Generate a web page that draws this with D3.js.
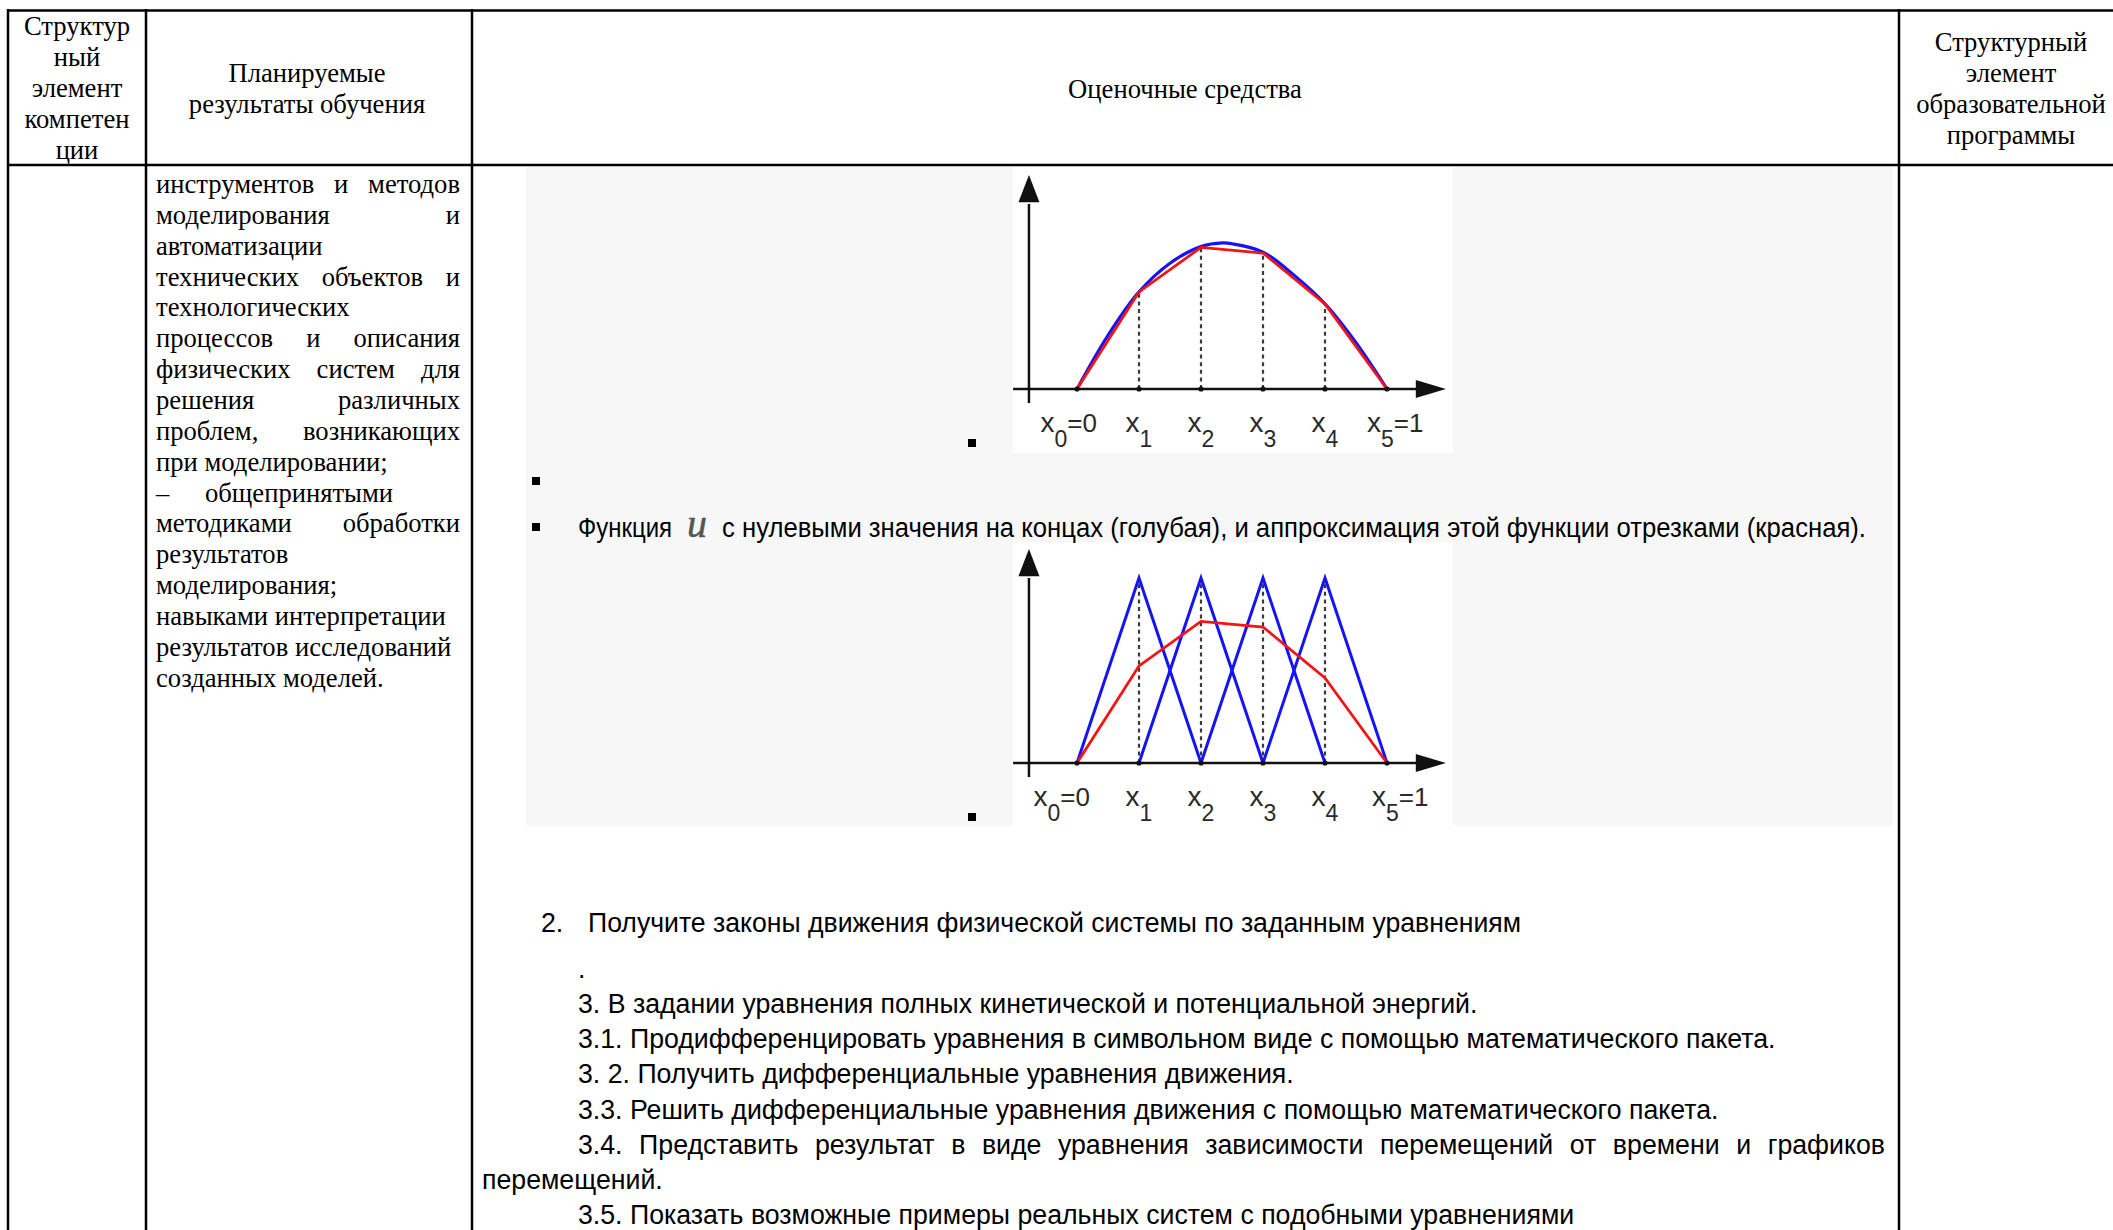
<!DOCTYPE html>
<html><head><meta charset="utf-8">
<script src="https://cdn.jsdelivr.net/npm/d3@7"></script>
<style>html,body{margin:0;padding:0;background:#fff;} svg{display:block;}</style>
</head><body>
<svg id="c" width="2113" height="1230"></svg>
<script>
// ---------- DATA ----------
const nodeX = [0, 0.2, 0.4, 0.6, 0.8, 1.0];
const nodeSub = ["0", "1", "2", "3", "4", "5"];
const nodeSuffix = ["=0", "", "", "", "", "=1"];
const redApprox = [0, 0.525, 0.765, 0.735, 0.46, 0];
const blueCurveX = [0, 0.1, 0.2, 0.3, 0.4, 0.47, 0.5, 0.6, 0.7, 0.8, 0.9, 1.0];
const blueCurveY = [0, 0.29, 0.525, 0.68, 0.77, 0.79, 0.785, 0.74, 0.615, 0.46, 0.25, 0];
const hatCenters = [0.2, 0.4, 0.6, 0.8];
const hatPeak = [1, 1, 1, 1];

const headerCol1 = ["Структур", "ный", "элемент", "компетен", "ции"];
const headerCol2 = ["Планируемые", "результаты обучения"];
const headerCol3 = ["Оценочные средства"];
const headerCol4 = ["Структурный", "элемент", "образовательной", "программы"];

const outcomeLines = [
  ["инструментов и методов", "j"],
  ["моделирования и", "j"],
  ["автоматизации", "l"],
  ["технических объектов и", "j"],
  ["технологических", "l"],
  ["процессов и описания", "j"],
  ["физических систем для", "j"],
  ["решения различных", "j"],
  ["проблем, возникающих", "j"],
  ["при моделировании;", "l"],
  ["– общепринятыми", "d"],
  ["методиками обработки", "j"],
  ["результатов", "l"],
  ["моделирования;", "l"],
  ["навыками интерпретации", "l"],
  ["результатов исследований", "l"],
  ["созданных моделей.", "l"]
];

const captionPre = "Функция";
const captionVar = "u";
const captionPost = "с нулевыми значения на концах (голубая), и аппроксимация этой функции отрезками (красная).";
const task2Num = "2.";
const task2Text = "Получите законы движения физической системы по заданным уравнениям";
const taskLines = [
  [".", "l", 0],
  ["3. В задании уравнения полных кинетической и потенциальной энергий.", "l", 0],
  ["3.1. Продифференцировать уравнения в символьном виде с помощью математического пакета.", "l", 0],
  ["3. 2. Получить дифференциальные уравнения движения.", "l", 0],
  ["3.3. Решить дифференциальные уравнения движения с помощью математического пакета.", "l", 0],
  ["3.4. Представить результат в виде уравнения зависимости перемещений от времени и графиков", "j", 0],
  ["перемещений.", "l", 1],
  ["3.5. Показать возможные примеры реальных систем с подобными уравнениями", "l", 0]
];

// ---------- SETUP ----------
const SERIF = "'Liberation Serif','Times New Roman',serif";
const SANS = "'Liberation Sans',Arial,sans-serif";
const svg = d3.select("#c");

function measure(text, family, size) {
  const t = svg.append("text").attr("font-family", family).attr("font-size", size).text(text);
  const w = t.node().getComputedTextLength();
  t.remove();
  return w;
}
const serifSize = 25 * 290 / measure("навыками интерпретации", SERIF, 25);
const sansSize = 24 * 1198 / measure(taskLines[2][0], SANS, 24);

function textLine(g, str, x0, y, family, size, opts = {}) {
  const t = g.append("text").attr("y", y).attr("font-family", family)
    .attr("font-size", size).attr("fill", "#000");
  if (opts.justifyTo) {
    const words = str.split(" ");
    const widths = words.map(w => measure(w, family, size));
    const gap = (opts.justifyTo - x0 - d3.sum(widths)) / (words.length - 1);
    let x = x0;
    words.forEach((w, i) => { t.append("tspan").attr("x", x).text(w); x += widths[i] + gap; });
  } else {
    t.attr("x", x0).text(str);
    if (opts.anchor) t.attr("text-anchor", opts.anchor);
    if (opts.fitTo) t.attr("textLength", opts.fitTo - x0).attr("lengthAdjust", "spacingAndGlyphs");
  }
  return t;
}

// ---------- BACKGROUNDS ----------
svg.append("rect").attr("x", 526).attr("y", 167).attr("width", 1367).attr("height", 659).attr("fill", "#f7f7f7");
svg.append("rect").attr("x", 1013).attr("y", 167).attr("width", 440).attr("height", 286).attr("fill", "#fff");
svg.append("rect").attr("x", 1013).attr("y", 542).attr("width", 440).attr("height", 284).attr("fill", "#fff");

// ---------- TABLE GRID ----------
const grid = svg.append("g").attr("stroke", "#000").attr("stroke-width", 2.5);
[10.5, 165].forEach(y => grid.append("line").attr("x1", 7).attr("x2", 2113).attr("y1", y).attr("y2", y));
[8, 146, 472, 1899].forEach(x => grid.append("line").attr("x1", x).attr("x2", x).attr("y1", 9).attr("y2", 1230));

// ---------- HEADER ----------
const hdr = svg.append("g");
headerCol1.forEach((s, i) => textLine(hdr, s, 77, 35 + i * 31, SERIF, serifSize, { anchor: "middle" }));
headerCol2.forEach((s, i) => textLine(hdr, s, 307, 82 + i * 31, SERIF, serifSize, { anchor: "middle" }));
headerCol3.forEach((s, i) => textLine(hdr, s, 1185, 98 + i * 31, SERIF, serifSize, { anchor: "middle" }));
headerCol4.forEach((s, i) => textLine(hdr, s, 2011, 51 + i * 31, SERIF, serifSize, { anchor: "middle" }));

// ---------- OUTCOMES COLUMN ----------
const oc = svg.append("g");
outcomeLines.forEach(([s, mode], i) => {
  const y = 193 + i * 30.85;
  if (mode === "j") textLine(oc, s, 156, y, SERIF, serifSize, { justifyTo: 460 });
  else if (mode === "d") {
    const parts = s.split(" ");
    textLine(oc, parts[0], 156, y, SERIF, serifSize);
    textLine(oc, parts.slice(1).join(" "), 205, y, SERIF, serifSize);
  } else textLine(oc, s, 156, y, SERIF, serifSize);
});

// ---------- CHARTS ----------
function drawChart(axisY, mode, lab) {
  const g = svg.append("g");
  const x = d3.scaleLinear().domain([0, 1]).range([1077, 1387]);
  const y = d3.scaleLinear().domain([0, 1]).range([axisY, axisY - 185]);
  const ink = "#111";
  g.append("line").attr("x1", x(-0.206)).attr("x2", x(1.11)).attr("y1", y(0)).attr("y2", y(0))
    .attr("stroke", ink).attr("stroke-width", 2.5);
  g.append("line").attr("x1", x(-0.155)).attr("x2", x(-0.155)).attr("y1", y(-0.076)).attr("y2", y(1.0))
    .attr("stroke", ink).attr("stroke-width", 2.5);
  g.append("path").attr("d", d3.line()([[x(1.093), y(0) - 9], [x(1.19), y(0)], [x(1.093), y(0) + 9]]))
    .attr("fill", ink);
  g.append("path").attr("d", d3.line()([[x(-0.155) - 10.5, y(1.01)], [x(-0.155), y(1.157)], [x(-0.155) + 10.5, y(1.01)]]))
    .attr("fill", ink);
  nodeX.slice(1, 5).forEach((v, i) => {
    const top = mode === "hat" ? hatPeak[i] : redApprox[i + 1];
    g.append("line").attr("x1", x(v)).attr("x2", x(v)).attr("y1", y(0)).attr("y2", y(top))
      .attr("stroke", "#3a3a3a").attr("stroke-width", 2.2).attr("stroke-dasharray", "4,3.6");
  });
  if (mode === "curve") {
    g.append("path").datum(blueCurveX.map((v, i) => [v, blueCurveY[i]]))
      .attr("d", d3.line().x(d => x(d[0])).y(d => y(d[1])).curve(d3.curveCatmullRom.alpha(0.5)))
      .attr("fill", "none").attr("stroke", "#1414f5").attr("stroke-width", 3.2);
  } else {
    hatCenters.forEach((c, i) => {
      g.append("path").datum([[c - 0.2, 0], [c, hatPeak[i]], [c + 0.2, 0]])
        .attr("d", d3.line().x(d => x(d[0])).y(d => y(d[1])))
        .attr("fill", "none").attr("stroke", "#1414f5").attr("stroke-width", 3).attr("stroke-linejoin", "miter");
    });
  }
  g.append("path").datum(nodeX.map((v, i) => [v, redApprox[i]]))
    .attr("d", d3.line().x(d => x(d[0])).y(d => y(d[1])))
    .attr("fill", "none").attr("stroke", "#f51414").attr("stroke-width", 2.8);
  g.selectAll("circle").data(nodeX).join("circle")
    .attr("cx", d => x(d)).attr("cy", y(0)).attr("r", 2.6).attr("fill", ink);
  nodeX.forEach((v, i) => {
    let ax = x(v), anchor = "middle";
    if (i === 0) { ax = x(v) + lab[0]; anchor = "end"; }
    if (i === 5) { ax = x(v) - lab[1]; anchor = "start"; }
    const t = g.append("text").attr("x", ax).attr("y", y(0) + 43).attr("text-anchor", anchor)
      .attr("font-family", SANS).attr("fill", "#2a2a2a").attr("font-size", 28);
    t.append("tspan").text("x");
    t.append("tspan").attr("dy", 15).attr("font-size", 23).text(nodeSub[i]);
    if (nodeSuffix[i]) t.append("tspan").attr("dy", -15).attr("font-size", 26).text(nodeSuffix[i]);
  });
}
drawChart(389, "curve", [20, 20]);
drawChart(763, "hat", [13, 15]);

// ---------- BULLETS ----------
const bullets = [[972, 443], [536, 481], [536, 527], [972, 817]];
svg.append("g").selectAll("rect").data(bullets).join("rect")
  .attr("x", d => d[0] - 4).attr("y", d => d[1] - 4).attr("width", 8).attr("height", 8).attr("fill", "#000");

// ---------- CAPTION ----------
const cap = svg.append("g");
textLine(cap, captionPre, 578, 537, SANS, sansSize, { fitTo: 672 });
cap.append("text").attr("x", 687).attr("y", 537).attr("font-family", SERIF).attr("font-style", "italic")
  .attr("font-size", 40).attr("fill", "#555").attr("stroke", "#555").attr("stroke-width", 0.5).text(captionVar);
textLine(cap, captionPost, 722, 537, SANS, sansSize, { fitTo: 1866 });

// ---------- TASKS ----------
const tk = svg.append("g");
textLine(tk, task2Num, 541, 932, SANS, sansSize);
textLine(tk, task2Text, 588, 932, SANS, sansSize, { fitTo: 1521 });
const taskY = [978, 1013, 1048, 1083, 1119, 1154, 1189, 1224];
taskLines.forEach(([s, mode, out], i) => {
  const x0 = out ? 482 : 578;
  if (mode === "j") textLine(tk, s, x0, taskY[i], SANS, sansSize, { justifyTo: 1885 });
  else textLine(tk, s, x0, taskY[i], SANS, sansSize);
});
</script>
</body></html>
